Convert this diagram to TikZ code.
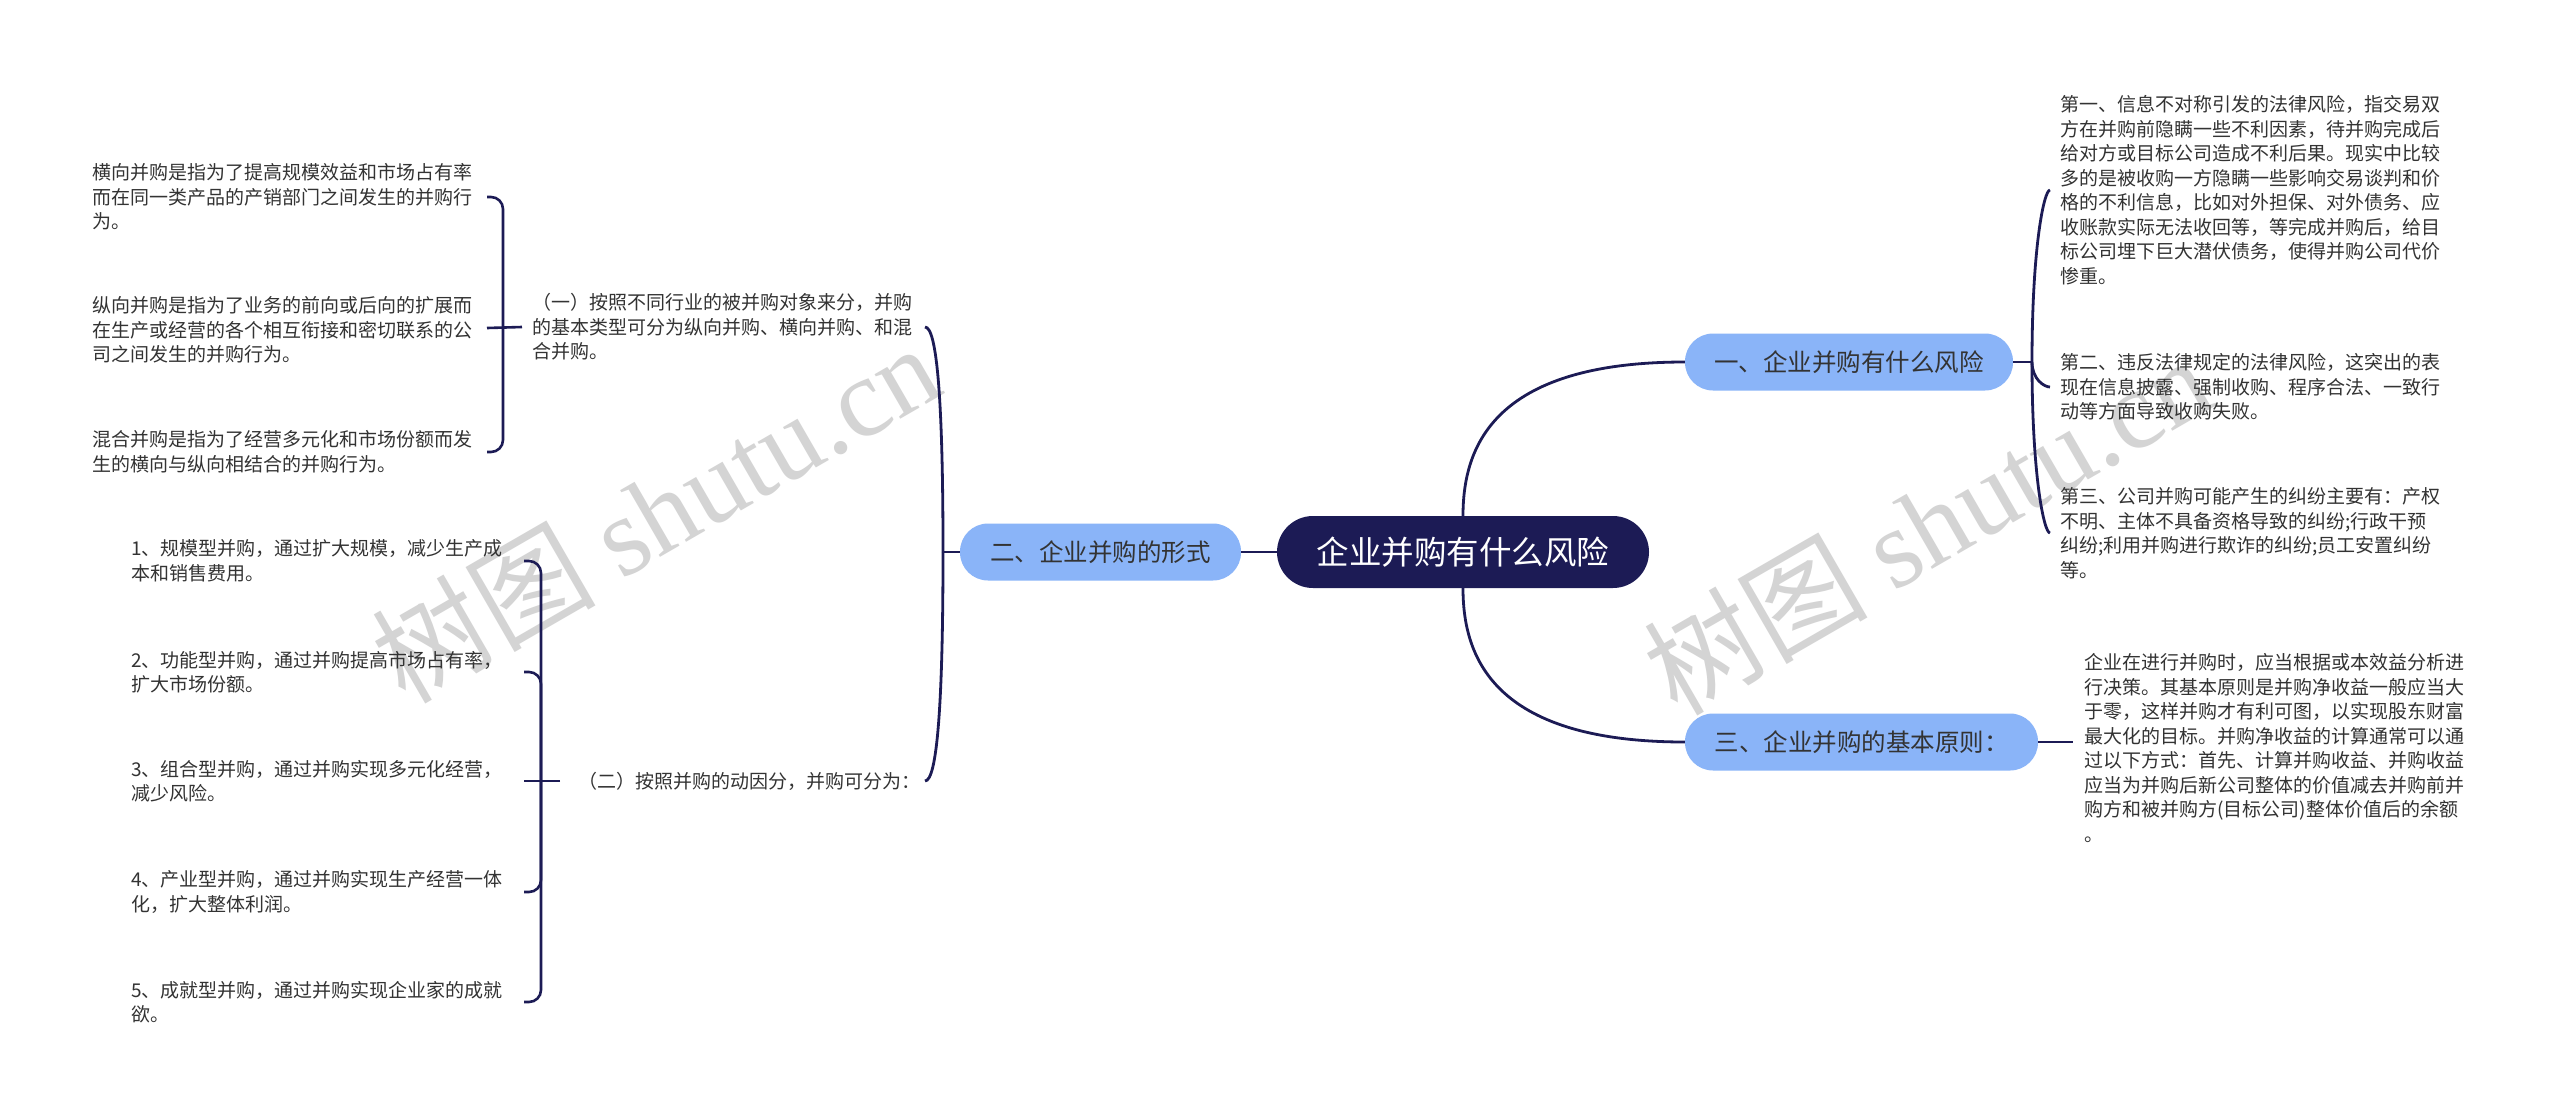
\documentclass[tikz,border=0pt]{standalone}
\usepackage{fontspec}
\setmainfont{Noto Sans CJK SC}
\newfontfamily\wmfont{Liberation Serif}
\usetikzlibrary{calc}
\definecolor{navy}{HTML}{1C1B55}
\definecolor{lblue}{HTML}{8AB4F8}
\definecolor{txt}{HTML}{333333}
\definecolor{wmgray}{HTML}{D4D4D4}
\begin{document}
\begin{tikzpicture}[x=1pt,y=-1pt,
  leaf/.style={anchor=west, align=left, inner sep=0pt, text=txt, font=\fontsize{19}{24.5}\selectfont},
  branch/.style={rounded corners=28, fill=lblue, minimum height=57, inner sep=0pt, text=txt, font=\fontsize{24.5}{28}\selectfont},
  rootbox/.style={rounded corners=36, fill=navy, minimum height=72, minimum width=372, inner sep=0pt, text=white, font=\fontsize{32.5}{36}\selectfont},
  conn/.style={draw=navy, line width=2.8pt},
  hook/.style={draw=navy, line width=2.6pt, rounded corners=12},
  wmark/.style={rotate=30, text=wmgray, inner sep=0pt, font=\fontsize{112}{120}\selectfont}
]
\useasboundingbox (0,0) rectangle (2560,1117);
\fill[white] (0,0) rectangle (2560,1117);

% watermarks
\node[wmark] (wm1) at (655,512) {树图 {\wmfont shutu.cn}};
\node[wmark] (wm2) at (1927,524) {树图 {\wmfont shutu.cn}};

% main nodes
\node[rootbox] (c) at (1463,552) {企业并购有什么风险};
\node[branch, minimum width=281] (n2) at (1100.5,552) {二、企业并购的形式};
\node[branch, minimum width=328] (n1) at (1849,362) {一、企业并购有什么风险};
\node[branch, minimum width=353] (n3) at (1861.5,742) {三、企业并购的基本原则：};

% right leaves
\node[leaf] (r1) at (2060,190) {第一、信息不对称引发的法律风险，指交易双\\方在并购前隐瞒一些不利因素，待并购完成后\\给对方或目标公司造成不利后果。现实中比较\\多的是被收购一方隐瞒一些影响交易谈判和价\\格的不利信息，比如对外担保、对外债务、应\\收账款实际无法收回等，等完成并购后，给目\\标公司埋下巨大潜伏债务，使得并购公司代价\\惨重。};
\node[leaf] (r2) at (2060,387) {第二、违反法律规定的法律风险，这突出的表\\现在信息披露、强制收购、程序合法、一致行\\动等方面导致收购失败。};
\node[leaf] (r3) at (2060,533) {第三、公司并购可能产生的纠纷主要有：产权\\不明、主体不具备资格导致的纠纷;行政干预\\纠纷;利用并购进行欺诈的纠纷;员工安置纠纷\\等。};
\node[leaf] (r4) at (2084,748) {企业在进行并购时，应当根据或本效益分析进\\行决策。其基本原则是并购净收益一般应当大\\于零，这样并购才有利可图，以实现股东财富\\最大化的目标。并购净收益的计算通常可以通\\过以下方式：首先、计算并购收益、并购收益\\应当为并购后新公司整体的价值减去并购前并\\购方和被并购方(目标公司)整体价值后的余额\\。};

% left level-2 leaves
\node[leaf] (p1) at (532,327) {（一）按照不同行业的被并购对象来分，并购\\的基本类型可分为纵向并购、横向并购、和混\\合并购。};
\node[leaf] (p2) at (578,781) {（二）按照并购的动因分，并购可分为：};

% left level-3 leaves
\node[leaf] (l1) at (92,197) {横向并购是指为了提高规模效益和市场占有率\\而在同一类产品的产销部门之间发生的并购行\\为。};
\node[leaf] (l2) at (92,330) {纵向并购是指为了业务的前向或后向的扩展而\\在生产或经营的各个相互衔接和密切联系的公\\司之间发生的并购行为。};
\node[leaf] (l3) at (92,452) {混合并购是指为了经营多元化和市场份额而发\\生的横向与纵向相结合的并购行为。};

\node[leaf] (b1) at (131,561) {1、规模型并购，通过扩大规模，减少生产成\\本和销售费用。};
\node[leaf] (b2) at (131,672) {2、功能型并购，通过并购提高市场占有率，\\扩大市场份额。};
\node[leaf] (b3) at (131,781) {3、组合型并购，通过并购实现多元化经营，\\减少风险。};
\node[leaf] (b4) at (131,892) {4、产业型并购，通过并购实现生产经营一体\\化，扩大整体利润。};
\node[leaf] (b5) at (131,1002) {5、成就型并购，通过并购实现企业家的成就\\欲。};

% junction points
\coordinate (j1) at (2032,362);
\coordinate (j2) at (943,552);
\coordinate (j3) at (503,328);
\coordinate (j4) at (541,781);

% root connectors
\draw[conn] (c.west) -- (n2.east);
\draw[conn] (c.north) .. controls (1463,450) and (1490,362) .. (n1.west);
\draw[conn] (c.south) .. controls (1463,654) and (1490,742) .. (n3.west);

% right brackets
\draw[conn] (n1.east) -- (j1);
\draw[conn] (j1) .. controls (2032,247) and (2044,190) .. ($(r1.west)+(-10,0)$);
\draw[conn] (j1) .. controls (2032,379) and (2044,387) .. ($(r2.west)+(-10,0)$);
\draw[conn] (j1) .. controls (2032,476) and (2044,533) .. ($(r3.west)+(-10,0)$);
\draw[conn] (n3.east) -- ($(n3.east -| r4.west)+(-11,0)$);

% main left spine
\draw[conn] (n2.west) -- (j2);
\draw[conn] (j2) .. controls (943,401) and (937,327) .. (925,327);
\draw[conn] (j2) .. controls (943,705) and (937,781) .. (925,781);

% upper-left bracket
\draw[hook] ($(p1.west)+(-10,0)$) -- (487,328);
\draw[hook] (j3) -- (503,197) -- (487,197);
\draw[hook] (j3) -- (503,452) -- (487,452);

% lower-left bracket
\draw[hook] ($(p2.west)+(-18,0)$) -- (524,781);
\draw[hook] (j4) -- (541,561) -- (524,561);
\draw[hook] (j4) -- (541,672) -- (524,672);
\draw[hook] (j4) -- (541,892) -- (524,892);
\draw[hook] (j4) -- (541,1002) -- (524,1002);
\end{tikzpicture}
\end{document}
